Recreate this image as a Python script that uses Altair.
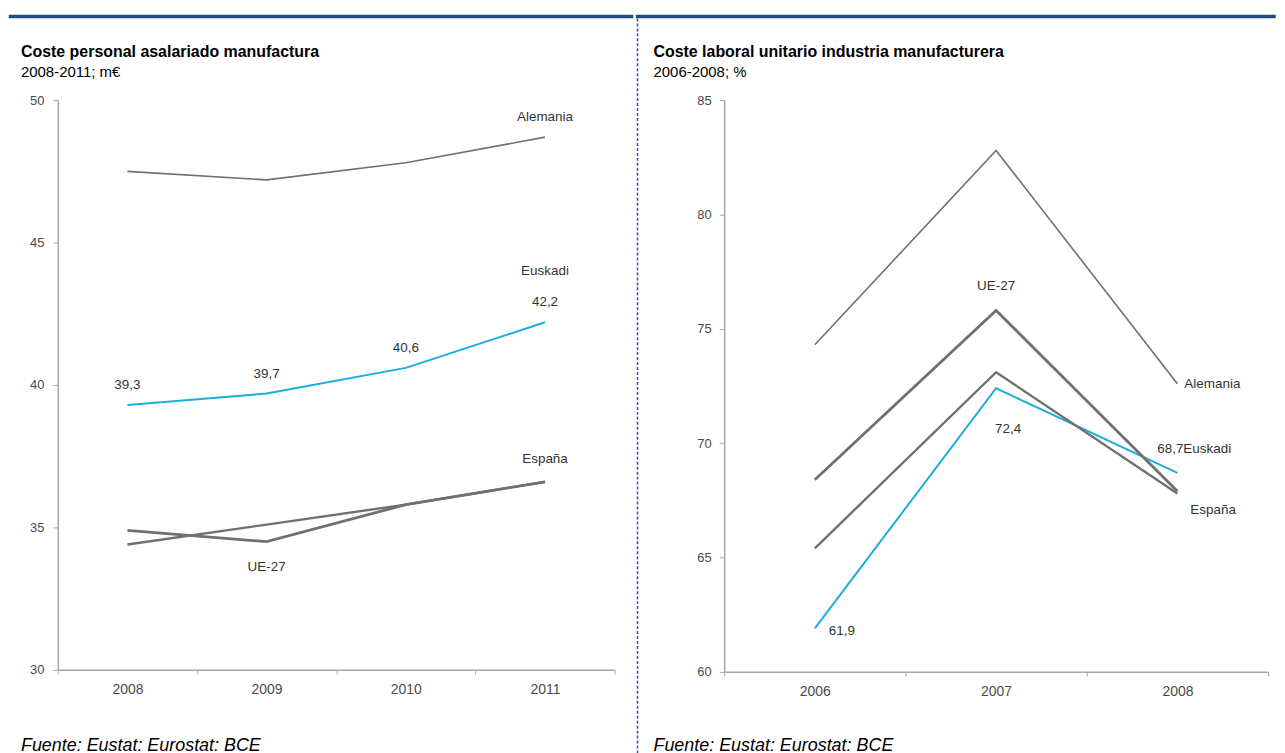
import altair as alt
import pandas as pd

# ---------------- data ----------------
years_l = ["2008", "2009", "2010", "2011"]
alemania_l = [47.5, 47.2, 47.8, 48.7]
euskadi_l = [39.3, 39.7, 40.6, 42.2]
espana_l = [34.4, 35.1, 35.8, 36.6]
ue27_l = [34.9, 34.5, 35.8, 36.6]

years_r = ["2006", "2007", "2008"]
alemania_r = [74.3, 82.8, 72.6]
ue27_r = [68.4, 75.8, 67.9]
espana_r = [65.4, 73.1, 67.8]
euskadi_r = [61.9, 72.4, 68.7]

series = ["Alemania", "Euskadi", "España", "UE-27"]

title_l = "Coste personal asalariado manufactura"
subtitle_l = "2008-2011; m€"
title_r = "Coste laboral unitario industria manufacturera"
subtitle_r = "2006-2008; %"
source = "Fuente: Eustat: Eurostat: BCE"

FONT = "Arial, Liberation Sans, Helvetica, sans-serif"
GRAY = "#707070"
AXIS = "#a6a6a6"


def long_df(years, d):
    rows = []
    for name, vals in d.items():
        for y, v in zip(years, vals):
            rows.append({"serie": name, "year": y, "value": v,
                         "label": f"{v:.1f}".replace(".", ",")})
    return pd.DataFrame(rows)


df_l = long_df(years_l, {"Alemania": alemania_l, "Euskadi": euskadi_l,
                         "España": espana_l, "UE-27": ue27_l})
df_r = long_df(years_r, {"Alemania": alemania_r, "Euskadi": euskadi_r,
                         "España": espana_r, "UE-27": ue27_r})
one = pd.DataFrame({"k": [0]})


def x_enc(years):
    return alt.X("year:O", sort=years,
                 scale=alt.Scale(type="band", domain=years, paddingInner=0, paddingOuter=0),
                 axis=alt.Axis(title=None, labelAngle=0, tickBand="extent",
                               domainColor=AXIS, domainWidth=1.5, tickColor=AXIS,
                               tickWidth=1, tickSize=4, labelPadding=9,
                               labelColor="#4a4a4a", labelFontSize=14, labelFont=FONT))


def y_enc(domain, values, pad):
    return alt.Y("value:Q",
                 scale=alt.Scale(domain=domain, nice=False, zero=False),
                 axis=alt.Axis(title=None, values=values, grid=False,
                               domainColor=AXIS, domainWidth=1.5, tickColor=AXIS,
                               tickWidth=1, tickSize=5, labelPadding=pad,
                               labelColor="#4a4a4a", labelFontSize=13, labelFont=FONT))


def text_at(base, serie, year, text, dx=0, dy=0, align="center", color="#333333"):
    return base.transform_filter(
        (alt.datum.serie == serie) & (alt.datum.year == year)
    ).mark_text(text=text, dx=dx, dy=dy, align=align, baseline="middle",
                font=FONT, fontSize=13.5, color=color)


def deco_text(text, x, y, size, weight="normal", style="normal"):
    return alt.Chart(one).mark_text(
        text=text, align="left", baseline="alphabetic", font=FONT,
        fontSize=size, fontWeight=weight, fontStyle=style, color="#000000"
    ).encode(x=alt.value(x), y=alt.value(y))


# ---------------- left panel ----------------
WL, HL = 559, 572
base_l = alt.Chart(df_l).encode(x=x_enc(years_l),
                                y=y_enc([30, 50], [30, 35, 40, 45, 50], 9))

lines_l = base_l.mark_line().encode(
    color=alt.Color("serie:N", legend=None,
                    scale=alt.Scale(domain=series, range=[GRAY, "#1aaedb", GRAY, GRAY])),
    strokeWidth=alt.StrokeWidth("serie:N", legend=None,
                                scale=alt.Scale(domain=series, range=[1.6, 2.8, 1.6, 1.6])),
    detail="serie:N",
)

vals_l = base_l.transform_filter(alt.datum.serie == "Euskadi").mark_text(
    dy=-20, font=FONT, fontSize=13.5, color="#333333").encode(text="label:N")

labels_l = [
    text_at(base_l, "Alemania", "2011", "Alemania", dy=-20),
    text_at(base_l, "Euskadi", "2011", "Euskadi", dy=-52),
    text_at(base_l, "España", "2011", "España", dy=-23),
    text_at(base_l, "UE-27", "2009", "UE-27", dy=25),
]

top_l = alt.Chart(one).mark_rule(color="#1f4e79", strokeWidth=3.5, strokeCap="square").encode(
    x=alt.value(-47.5), x2=alt.value(576), y=alt.value(-84))

left = alt.layer(
    top_l,
    deco_text(title_l, -37, -43, 16, weight="bold"),
    deco_text(subtitle_l, -37, -23, 15),
    deco_text(source, -37, 653, 18, style="italic"),
    lines_l, vals_l, *labels_l,
).properties(width=WL, height=HL)

# ---------------- right panel ----------------
WR, HR = 546, 574
base_r = alt.Chart(df_r).encode(x=x_enc(years_r),
                                y=y_enc([60, 85], [60, 65, 70, 75, 80, 85], 8))

lines_r = base_r.mark_line().encode(
    color=alt.Color("serie:N", legend=None,
                    scale=alt.Scale(domain=series, range=[GRAY, "#46aebb", GRAY, GRAY])),
    strokeWidth=alt.StrokeWidth("serie:N", legend=None,
                                scale=alt.Scale(domain=series, range=[1.8, 2.0, 1.8, 1.8])),
    detail="serie:N",
)

labels_r = [
    text_at(base_r, "UE-27", "2007", "UE-27", dy=-25),
    text_at(base_r, "Alemania", "2008", "Alemania", dx=7, align="left"),
    text_at(base_r, "Euskadi", "2008", "68,7", dx=6, dy=-24, align="right"),
    text_at(base_r, "Euskadi", "2008", "Euskadi", dx=6, dy=-24, align="left"),
    text_at(base_r, "España", "2008", "España", dx=13, dy=17, align="left"),
    text_at(base_r, "Euskadi", "2007", "72,4", dx=12, dy=41),
    text_at(base_r, "Euskadi", "2006", "61,9", dx=14, dy=3, align="left"),
]

top_r = alt.Chart(one).mark_rule(color="#1f4e79", strokeWidth=3.5, strokeCap="square").encode(
    x=alt.value(-87), x2=alt.value(552), y=alt.value(-84))
divider = alt.Chart(one).mark_rule(color="#2f5597", strokeWidth=1.5,
                                   strokeDash=[3, 2]).encode(
    x=alt.value(-87), y=alt.value(-82), y2=alt.value(656))

right = alt.layer(
    top_r, divider,
    deco_text(title_r, -71, -43, 16, weight="bold"),
    deco_text(subtitle_r, -71, -23, 15),
    deco_text(source, -71, 653, 18, style="italic"),
    lines_r, *labels_r,
).properties(width=WR, height=HR)

chart = alt.hconcat(left, right, spacing=0).properties(
    padding={"left": 0, "top": 4, "right": 0, "bottom": 0}
).configure_view(stroke=None)

chart.save("out.html", embed_options={"renderer": "svg", "actions": False})
